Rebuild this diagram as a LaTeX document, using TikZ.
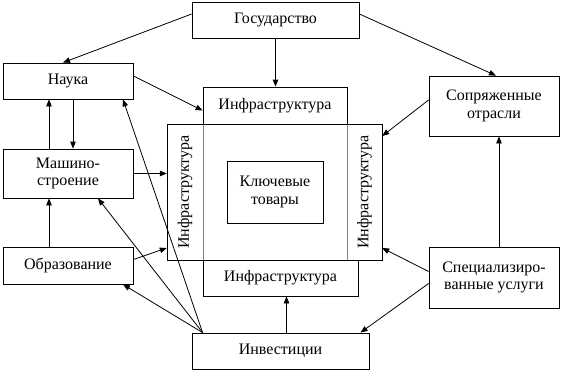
\documentclass[tikz,border=0pt]{standalone}
\usepackage{fontspec}
\setmainfont{Liberation Serif}
\usetikzlibrary{arrows.meta,calc}
\begin{document}
\begin{tikzpicture}[x=1pt,y=-1pt,
  box/.style={draw, line width=0.8pt, inner sep=0pt, align=center, font=\fontsize{16}{17.5}\selectfont},
  strip/.style={inner sep=0pt, font=\fontsize{16}{17.5}\selectfont, rotate=90},
  arr/.style={line width=0.8pt, -{Triangle[length=7pt,width=5.5pt]}}]
\useasboundingbox (0,0) rectangle (562,372);
\node[box, minimum width=167, minimum height=36] (gos) at (275.5,20) {Государство};
\node[box, minimum width=130, minimum height=36] (nauka) at (68,81) {Наука};
\node[box, minimum width=130, minimum height=49] (mash) at (68,173.5) {Машино-\\строение};
\node[box, minimum width=130, minimum height=37] (obr) at (68,265.5) {Образование};
\node[box, minimum width=177, minimum height=36] (inv) at (280.5,351) {Инвестиции};
\node[box, minimum width=130, minimum height=60] (sopr) at (494,106) {Сопряженные\\отрасли};
\node[box, minimum width=130, minimum height=61] (spec) at (494,277.5) {Специализиро-\\ванные услуги};
% infrastructure cross
\draw[line width=0.8pt] (167,124) rectangle (382,260);
\draw[gray, line width=0.6pt] (203,124) -- (203,260) (347,124) -- (347,260);
\node[box, minimum width=144, minimum height=37] (topinf) at (275,105.5) {Инфраструктура};
\node[box, minimum width=155, minimum height=36] (botinf) at (280.5,278) {Инфраструктура};
\node[inner sep=0pt, minimum width=36, minimum height=136] (leftstrip) at (185,192) {};
\node[inner sep=0pt, minimum width=35, minimum height=136] (rightstrip) at (364.5,192) {};
\node[strip] (lefttext) at (leftstrip.center) {Инфраструктура};
\node[strip] (righttext) at (rightstrip.center) {Инфраструктура};
\node[box, minimum width=96, minimum height=62] (key) at (275,192) {Ключевые\\товары};
% arrows
\draw[arr] ([yshift=6pt]gos.west) -- ([xshift=-5pt]nauka.north);
\draw[arr] (gos.south) -- (gos.south |- topinf.north);
\draw[arr] ([yshift=6pt]gos.east) -- ([xshift=2pt]sopr.north);
\draw[arr] ([yshift=5pt]nauka.east) -- ([yshift=-5pt]topinf.west);
\draw[arr] ([xshift=-19pt]mash.north) -- ([xshift=-19pt]nauka.south);
\draw[arr] ([xshift=5pt]nauka.south) -- ([xshift=5pt]mash.north);
\draw[arr] (mash.east) -- (mash.east -| leftstrip.west);
\draw[arr] ([xshift=-19pt]obr.north) -- ([xshift=-19pt]mash.south);
\draw[arr] ([yshift=6pt]obr.east) -- ([yshift=-56pt]leftstrip.west);
\coordinate (invp) at ([xshift=11pt]inv.north west);
\draw[arr] (invp) -- ([xshift=55pt]nauka.south);
\draw[arr] (invp) -- ([xshift=30pt]mash.south);
\draw[arr] (invp) -- ([xshift=55pt]obr.south);
\draw[arr] ([yshift=6pt]sopr.west) -- ([yshift=56pt]rightstrip.east);
\draw[arr] ([xshift=5pt]spec.north) -- ([xshift=5pt]sopr.south);
\draw[arr] ([yshift=6pt]spec.west) -- ([yshift=-56pt]rightstrip.east);
\draw[arr] ([yshift=-6pt]spec.west) -- ([xshift=80pt]inv.north);
\draw[arr] ([xshift=6pt]inv.north) -- ([xshift=6pt]inv.north |- botinf.south);
\end{tikzpicture}
\end{document}
